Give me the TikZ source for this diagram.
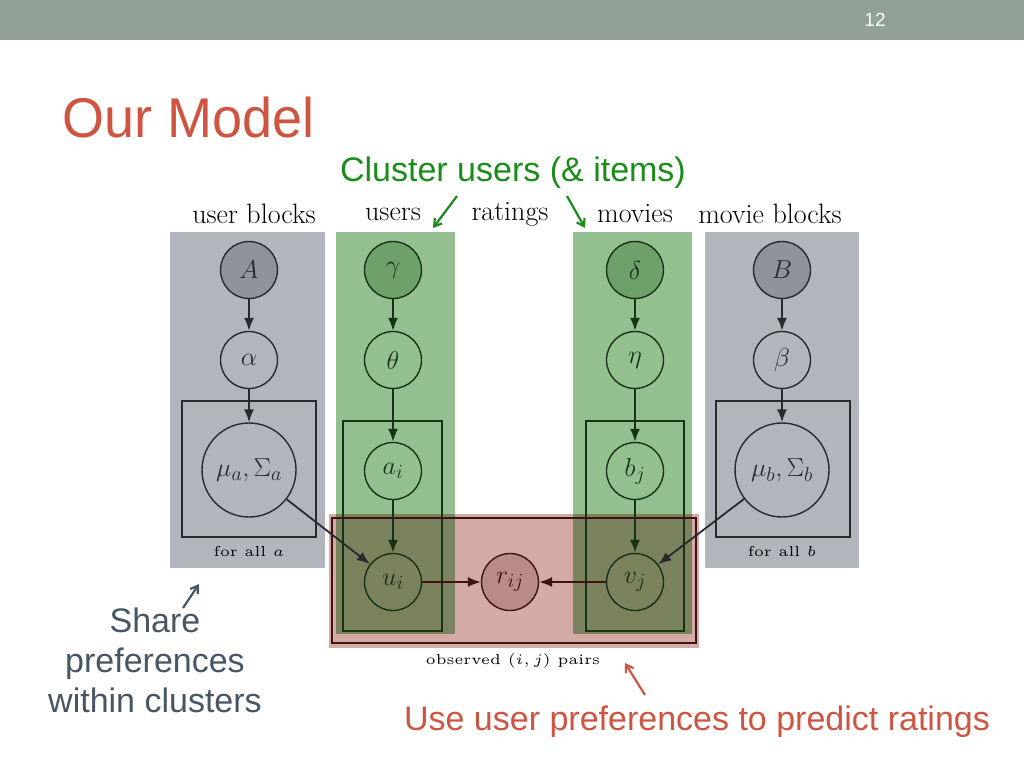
\RequirePackage{fix-cm}
\documentclass[tikz,border=0pt]{standalone}
\usepackage{fontspec}
\newfontfamily\slidefont{Liberation Sans}
\usetikzlibrary{arrows.meta,positioning}
\DeclareMathSizes{26}{26}{20}{15}
\definecolor{barcol}{RGB}{146,160,152}
\definecolor{graypanel}{RGB}{178,181,188}
\definecolor{greenpanel}{RGB}{148,192,145}
\definecolor{redpanel}{RGB}{212,170,165}
\definecolor{olivepanel}{RGB}{123,130,94}
\definecolor{grayfill}{RGB}{143,147,154}
\definecolor{greenfill}{RGB}{110,160,108}
\definecolor{redfill}{RGB}{185,138,134}
\definecolor{grayline}{RGB}{40,42,46}
\definecolor{greenline}{RGB}{24,50,22}
\definecolor{redline}{RGB}{62,20,18}
\definecolor{titlered}{RGB}{205,85,65}
\definecolor{clustergreen}{RGB}{25,140,25}
\definecolor{slate}{RGB}{72,85,98}
\tikzset{
  rv/.style={circle, draw, line width=1.4pt, minimum size=57pt, inner sep=0pt,
             font=\fontsize{26}{30}\selectfont},
  bigrv/.style={rv, minimum size=94pt},
  edge/.style={line width=1.8pt, -{Latex[length=13pt,width=10pt]}},
  plate/.style={draw, line width=1.7pt},
  hdr/.style={font=\fontsize{28}{32}\selectfont},
  platelbl/.style={font=\tiny, scale=2.9},
  slidetxt/.style={font=\slidefont\fontsize{34}{40}\selectfont, align=center},
  callout/.style={line width=2.2pt, -{Straight Barb[length=7pt,width=9pt]}}
}
\begin{document}
\begin{tikzpicture}[x=1pt,y=-1pt]
  \useasboundingbox (0,0) rectangle (1024,768);

  % slide frame
  \fill[barcol] (0,0) rectangle (1024,40);
  \node[text=white, font=\slidefont\fontsize{19}{22}\selectfont] (pageno) at (875,20) {12};
  \node[anchor=base west, inner sep=0pt, text=titlered, xscale=0.965,
        font=\slidefont\fontsize{56}{60}\selectfont] (title) at (62,137) {Our Model};

  % panels
  \fill[graypanel] (170,232) rectangle (325,568);
  \fill[graypanel] (705,232) rectangle (859,568);
  \fill[greenpanel] (336,232) rectangle (455,634);
  \fill[greenpanel] (573,232) rectangle (692,634);
  \fill[redpanel] (329,514) rectangle (699,648);
  \fill[olivepanel] (336,514) rectangle (455,634);
  \fill[olivepanel] (573,514) rectangle (692,634);

  % plates
  \draw[plate, grayline] (182,401) rectangle (316,537);
  \draw[plate, grayline] (716,401) rectangle (850,537);
  \draw[plate, greenline] (343,421) rectangle (442,631);
  \draw[plate, greenline] (586,421) rectangle (684,631);
  \draw[plate, redline] (332,518) rectangle (696,643);

  \node[platelbl] (foralla) at (249,551) {for all $a$};
  \node[platelbl] (forallb) at (782,551) {for all $b$};
  \node[platelbl] (observed) at (513,661) {observed $(i,j)$ pairs};

  % column headers
  \node[hdr] (hublocks) at (254,214) {user blocks};
  \node[hdr] (husers) at (393,214) {users};
  \node[hdr] (hratings) at (510,214) {ratings};
  \node[hdr] (hmovies) at (635,214) {movies};
  \node[hdr] (hmblocks) at (770,214) {movie blocks};

  % user side
  \node[rv, grayline, fill=grayfill] (A) at (249,270) {$A$};
  \node[rv, grayline] (alpha) at (249,360) {$\alpha$};
  \node[bigrv, grayline] (mua) at (249,470) {$\mu_a,\Sigma_a$};
  \node[rv, greenline, fill=greenfill] (gamma) at (393,270) {$\gamma$};
  \node[rv, greenline] (theta) at (393,360) {$\theta$};
  \node[rv, greenline] (ai) at (393,471) {$a_i$};
  \node[rv, greenline] (ui) at (393,582) {$u_i$};

  \node[rv, redline, fill=redfill] (rij) at (510,582) {$r_{ij}$};

  % movie side
  \node[rv, grayline, fill=grayfill] (B) at (782,270) {$B$};
  \node[rv, grayline] (beta) at (782,360) {$\beta$};
  \node[bigrv, grayline] (mub) at (782,470) {$\mu_b,\Sigma_b$};
  \node[rv, greenline, fill=greenfill] (delta) at (635,270) {$\delta$};
  \node[rv, greenline] (eta) at (635,360) {$\eta$};
  \node[rv, greenline] (bj) at (635,471) {$b_j$};
  \node[rv, greenline] (vj) at (635,582) {$v_j$};

  \draw[edge, grayline] (A) -- (alpha);
  \draw[edge, grayline] (alpha) -- (mua);
  \draw[edge, grayline] (mua) -- (ui);
  \draw[edge, greenline] (gamma) -- (theta);
  \draw[edge, greenline] (theta) -- (ai);
  \draw[edge, greenline] (ai) -- (ui);
  \draw[edge, redline] (ui) -- (rij);
  \draw[edge, grayline] (B) -- (beta);
  \draw[edge, grayline] (beta) -- (mub);
  \draw[edge, grayline] (mub) -- (vj);
  \draw[edge, greenline] (delta) -- (eta);
  \draw[edge, greenline] (eta) -- (bj);
  \draw[edge, greenline] (bj) -- (vj);
  \draw[edge, redline] (vj) -- (rij);

  % callouts
  \node[slidetxt, text=clustergreen] (cluster) at (513,173) {Cluster users (\& items)};
  \coordinate (usersc) at (433,228);
  \coordinate (moviesc) at (585,228);
  \draw[callout, clustergreen] (457,196) -- (usersc);
  \draw[callout, clustergreen] (567,196) -- (moviesc);

  \node[slidetxt, text=slate] (share) at (155,660)
    {Share\\preferences\\within clusters};
  \coordinate (blocksc) at (199,584);
  \draw[callout, slate] (183,608) -- (blocksc);

  \node[slidetxt, text=titlered] (predict) at (697,722) {Use user preferences to predict ratings};
  \coordinate (observedc) at (625,663);
  \draw[callout, titlered] (645,695) -- (observedc);
\end{tikzpicture}
\end{document}
